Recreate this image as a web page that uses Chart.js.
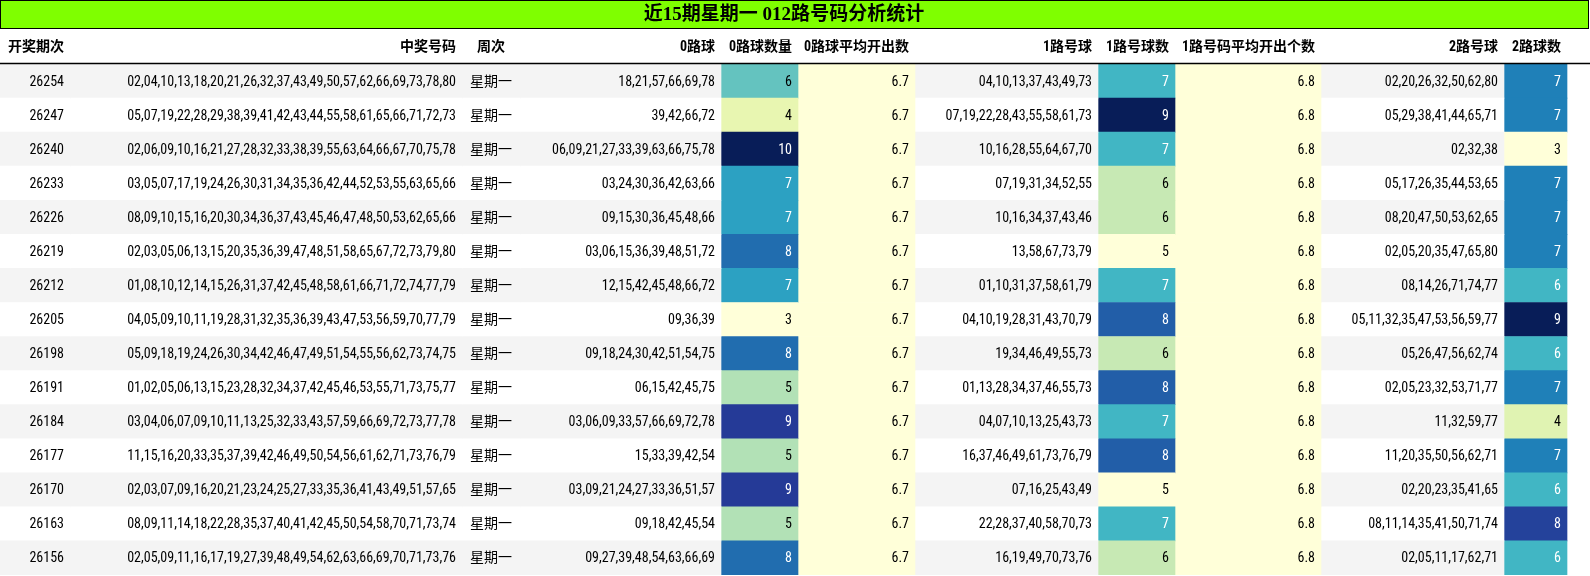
<!DOCTYPE html>
<html><head><meta charset="utf-8">
<script src="https://cdn.jsdelivr.net/npm/chart.js@4"></script>
<style>body{margin:0;background:#fff}canvas{display:block}</style>
</head><body>
<canvas id="c" width="1590" height="576"></canvas>
<script>
const title = '近15期星期一 012路号码分析统计';
const headers = ['开奖期次','中奖号码','周次','0路球','0路球数量','0路球平均开出数','1路号球','1路号球数','1路号码平均开出个数','2路号球','2路球数'];
const issues = ['26254','26247','26240','26233','26226','26219','26212','26205','26198','26191','26184','26177','26170','26163','26156'];
const draws = [
 '02,04,10,13,18,20,21,26,32,37,43,49,50,57,62,66,69,73,78,80',
 '05,07,19,22,28,29,38,39,41,42,43,44,55,58,61,65,66,71,72,73',
 '02,06,09,10,16,21,27,28,32,33,38,39,55,63,64,66,67,70,75,78',
 '03,05,07,17,19,24,26,30,31,34,35,36,42,44,52,53,55,63,65,66',
 '08,09,10,15,16,20,30,34,36,37,43,45,46,47,48,50,53,62,65,66',
 '02,03,05,06,13,15,20,35,36,39,47,48,51,58,65,67,72,73,79,80',
 '01,08,10,12,14,15,26,31,37,42,45,48,58,61,66,71,72,74,77,79',
 '04,05,09,10,11,19,28,31,32,35,36,39,43,47,53,56,59,70,77,79',
 '05,09,18,19,24,26,30,34,42,46,47,49,51,54,55,56,62,73,74,75',
 '01,02,05,06,13,15,23,28,32,34,37,42,45,46,53,55,71,73,75,77',
 '03,04,06,07,09,10,11,13,25,32,33,43,57,59,66,69,72,73,77,78',
 '11,15,16,20,33,35,37,39,42,46,49,50,54,56,61,62,71,73,76,79',
 '02,03,07,09,16,20,21,23,24,25,27,33,35,36,41,43,49,51,57,65',
 '08,09,11,14,18,22,28,35,37,40,41,42,45,50,54,58,70,71,73,74',
 '02,05,09,11,16,17,19,27,39,48,49,54,62,63,66,69,70,71,73,76'];
const weekday = '星期一';
const zeroBalls = ['18,21,57,66,69,78','39,42,66,72','06,09,21,27,33,39,63,66,75,78','03,24,30,36,42,63,66','09,15,30,36,45,48,66','03,06,15,36,39,48,51,72','12,15,42,45,48,66,72','09,36,39','09,18,24,30,42,51,54,75','06,15,42,45,75','03,06,09,33,57,66,69,72,78','15,33,39,42,54','03,09,21,24,27,33,36,51,57','09,18,42,45,54','09,27,39,48,54,63,66,69'];
const zeroCount = [6,4,10,7,7,8,7,3,8,5,9,5,9,5,8];
const zeroAvg = '6.7';
const oneBalls = ['04,10,13,37,43,49,73','07,19,22,28,43,55,58,61,73','10,16,28,55,64,67,70','07,19,31,34,52,55','10,16,34,37,43,46','13,58,67,73,79','01,10,31,37,58,61,79','04,10,19,28,31,43,70,79','19,34,46,49,55,73','01,13,28,34,37,46,55,73','04,07,10,13,25,43,73','16,37,46,49,61,73,76,79','07,16,25,43,49','22,28,37,40,58,70,73','16,19,49,70,73,76'];
const oneCount = [7,9,7,6,6,5,7,8,6,8,7,8,5,7,6];
const oneAvg = '6.8';
const twoBalls = ['02,20,26,32,50,62,80','05,29,38,41,44,65,71','02,32,38','05,17,26,35,44,53,65','08,20,47,50,53,62,65','02,05,20,35,47,65,80','08,14,26,71,74,77','05,11,32,35,47,53,56,59,77','05,26,47,56,62,74','02,05,23,32,53,71,77','11,32,59,77','11,20,35,50,56,62,71','02,20,23,35,41,65','08,11,14,35,41,50,71,74','02,05,11,17,62,71'];
const twoCount = [7,7,3,7,7,7,6,9,6,7,4,7,6,8,6];

// layout
const colWidths = [70,392,58,201,77,117,183,77,146,183,63];
const colAlign = ['right','right','center','right','right','right','right','right','right','right','right'];
const FONT = '"Liberation Sans Narrow","Roboto Condensed","DejaVu Sans Condensed","Noto Sans CJK SC",sans-serif';
const TOP = 64, BOTTOM = 567, RIGHT = colWidths.reduce((a,b)=>a+b,0);

const YGB = ['#ffffd9','#edf8b1','#c7e9b4','#7fcdbb','#41b6c4','#1d91c0','#225ea8','#253494','#081d58'];
function hex(h){return [1,3,5].map(i=>parseInt(h.substr(i,2),16));}
function ylgnbu(t){
  const p=Math.max(0,Math.min(1,t))*(YGB.length-1), i=Math.min(Math.floor(p),YGB.length-2), f=p-i;
  const a=hex(YGB[i]), b=hex(YGB[i+1]);
  return 'rgb('+a.map((v,k)=>Math.round(v+(b[k]-v)*f)).join(',')+')';
}
function norm(arr){const mn=Math.min(...arr),mx=Math.max(...arr);return arr.map(v=>(v-mn)/(mx-mn));}
const countT = {4:norm(zeroCount),7:norm(oneCount),10:norm(twoCount)};

const cellText = [issues, draws, issues.map(()=>weekday), zeroBalls, zeroCount, issues.map(()=>zeroAvg), oneBalls, oneCount, issues.map(()=>oneAvg), twoBalls, twoCount];
const stripe = issues.map((_, i) => i % 2 === 0 ? '#f4f4f4' : '#ffffff');

const datasets = colWidths.map((w, c) => ({
  label: headers[c],
  data: issues.map(() => w),
  backgroundColor: countT[c] ? countT[c].map(ylgnbu) : (c===5||c===8 ? issues.map(()=> '#ffffd9') : stripe),
  borderWidth: 0, barPercentage: 1, categoryPercentage: 1
}));

function fitText(ctx, s, maxW) {
  const w = ctx.measureText(s).width;
  return w > maxW ? maxW / w : 1;
}

const tablePlugin = {
  id: 'table',
  afterDatasetsDraw(chart) {
    const ctx = chart.ctx;
    ctx.save();
    // title bar
    ctx.fillStyle = '#7fff00';
    ctx.fillRect(1, 1, 1587, 27);
    ctx.strokeStyle = '#000'; ctx.lineWidth = 1;
    ctx.strokeRect(0.5, 0.5, 1588, 28);
    ctx.fillStyle = '#000';
    ctx.font = 'bold 19px "Liberation Serif","Noto Sans CJK SC",serif';
    ctx.textAlign = 'center'; ctx.textBaseline = 'middle';
    ctx.fillText(title, 784, 15);
    // headers
    ctx.font = 'bold 14px ' + FONT;
    let x = 0;
    colWidths.forEach((w, c) => {
      const a = colAlign[c]; ctx.textAlign = c===0 ? 'left' : a;
      const tx = c===0 ? x+8 : (a==='center' ? x+w/2 : x+w-6);
      ctx.fillText(headers[c], tx, 47);
      x += w;
    });
    ctx.beginPath(); ctx.lineWidth = 1.5; ctx.moveTo(0, 63.5); ctx.lineTo(1590, 63.5); ctx.stroke();
    // cells
    ctx.font = '14px ' + FONT;
    chart.data.datasets.forEach((ds, c) => {
      chart.getDatasetMeta(c).data.forEach((el, r) => {
        const t = countT[c] ? countT[c][r] : -1;
        ctx.fillStyle = t >= 0.5 ? '#ffffff' : '#000000';
        const s = String(cellText[c][r]);
        const a = colAlign[c];
        const tx = a==='center' ? (el.base+el.x)/2 : el.x - 6;
        const k = fitText(ctx, s, el.x - el.base - 9);
        ctx.save();
        ctx.translate(tx, el.y + 1);
        ctx.scale(k, 1);
        ctx.textAlign = a;
        ctx.fillText(s, 0, 0);
        ctx.restore();
      });
    });
    ctx.restore();
  }
};

new Chart(document.getElementById('c'), {
  type: 'bar',
  data: { labels: issues, datasets },
  options: {
    indexAxis: 'y', responsive: false, animation: false, devicePixelRatio: 1,
    layout: { padding: { left: 0, right: 0, top: TOP, bottom: 576 - BOTTOM - 8 } },
    plugins: { legend: { display: false }, tooltip: { enabled: false } },
    scales: {
      x: { stacked: true, min: 0, max: 1590, display: false },
      y: { stacked: true, display: false, offset: true }
    }
  },
  plugins: [tablePlugin]
});
</script>
</body></html>
